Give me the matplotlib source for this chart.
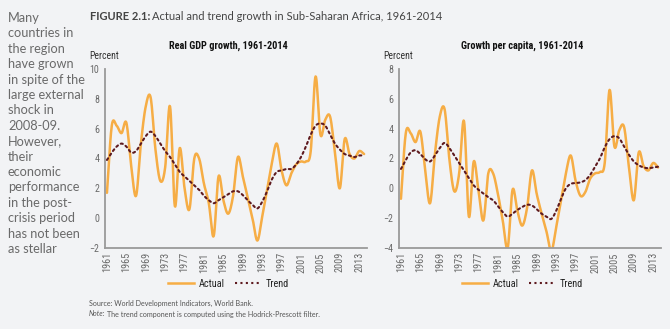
import numpy as np
import matplotlib
matplotlib.use("Agg")
import matplotlib.pyplot as plt
from matplotlib.lines import Line2D
from matplotlib import font_manager as fm

# --- data (annual values, percent) ---
years = list(range(1961, 2015))

gdp_actual = [1.7, 6.2, 6.2, 5.7, 6.4, 3.5, 1.5, 5.0, 7.5, 8.1,
              4.6, 2.5, 3.4, 7.5, 0.8, 4.7, 2.0, 0.6, 4.0, 4.0,
              2.3, 1.0, -1.2, 2.8, 1.2, 0.3, 1.5, 4.1, 2.8, 1.4,
              0.0, -1.5, 0.1, 1.9, 3.7, 5.0, 3.2, 2.2, 3.0, 3.6,
              3.8, 3.8, 4.5, 9.5, 5.6, 6.6, 6.8, 4.4, 2.0, 5.3,
              4.3, 4.0, 4.5, 4.3]
gdp_trend = [3.9, 4.4, 4.8, 5.0, 4.8, 4.4, 4.5, 5.0, 5.5, 5.8,
             5.5, 5.0, 4.5, 4.1, 3.6, 3.1, 2.8, 2.5, 2.2, 1.9,
             1.5, 1.2, 1.0, 1.2, 1.4, 1.6, 1.8, 1.8, 1.55, 1.2,
             0.9, 0.65, 1.1, 1.8, 2.6, 3.1, 3.2, 3.3, 3.3, 3.6,
             4.1, 4.8, 5.6, 6.2, 6.35, 6.2, 5.6, 5.0, 4.6, 4.3,
             4.2, 4.1, 4.2, 4.2]

pc_actual = [-0.7, 3.7, 3.7, 3.1, 3.8, 1.2, -1.0, 2.3, 4.8, 5.3,
             1.9, -0.2, 1.0, 4.5, -1.9, 1.8, -0.2, -2.15, 1.0, 1.0,
             -0.4, -2.2, -4.0, -0.1, -1.5, -2.5, -1.3, 1.2, -0.4, -1.7,
             -2.9, -4.2, -2.6, -0.8, 1.0, 2.2, 0.5, -0.5, -0.25, 0.65,
             1.0, 1.1, 1.7, 6.6, 2.8, 3.9, 4.1, 1.4, -0.8, 2.4,
             1.5, 1.2, 1.7, 1.4]
pc_trend = [1.3, 1.9, 2.4, 2.55, 2.3, 1.95, 1.8, 2.2, 2.7, 3.05,
            2.7, 2.2, 1.7, 1.2, 0.7, 0.2, -0.1, -0.35, -0.6, -0.8,
            -1.2, -1.6, -1.9, -1.7, -1.45, -1.25, -1.1, -1.15, -1.4, -1.7,
            -1.9, -2.05, -1.5, -0.7, 0.0, 0.3, 0.35, 0.4, 0.55, 0.9,
            1.45, 2.0, 2.75, 3.3, 3.5, 3.35, 2.8, 2.25, 1.8, 1.55,
            1.4, 1.35, 1.4, 1.45]

tick_years = list(range(1961, 2014, 4))

panel_titles = ["Real GDP growth, 1961-2014", "Growth per capita, 1961-2014"]
panel_ylims = [(-2, 10), (-4, 8)]

blurb = ("Many\ncountries in\nthe region\nhave grown\nin spite of the\n"
         "large external\nshock in\n2008-09.\nHowever,\ntheir\neconomic\n"
         "performance\nin the post-\ncrisis period\nhas not been\nas stellar")

ORANGE = "#f6ad45"
MAROON = "#5e1a1f"
GREY = "#6a6a6a"

# the chart labels use a condensed face; take whatever narrow font exists
narrow_kw = {"family": "DejaVu Sans", "stretch": "normal"}
_names = {f.name for f in fm.fontManager.ttflist}
for cand in ["Liberation Sans Narrow", "Roboto Condensed", "Open Sans Condensed",
             "Noto Sans Condensed", "DejaVu Sans Condensed"]:
    if cand in _names:
        narrow_kw = {"family": cand, "stretch": "normal"}
        break
else:
    if any(f.name == "DejaVu Sans" and f.stretch == "condensed"
           for f in fm.fontManager.ttflist):
        narrow_kw = {"family": "DejaVu Sans", "stretch": "condensed"}
is_narrow = narrow_kw != {"family": "DejaVu Sans", "stretch": "normal"}
shrink = 1.0 if is_narrow else 0.82


def smooth(x, y, n=12):
    """Catmull-Rom curve through the points, like a 'smoothed line' chart."""
    x = np.asarray(x, float)
    y = np.asarray(y, float)
    px = np.concatenate([[2 * x[0] - x[1]], x, [2 * x[-1] - x[-2]]])
    py = np.concatenate([[2 * y[0] - y[1]], y, [2 * y[-1] - y[-2]]])
    t = np.linspace(0, 1, n, endpoint=False)
    xs, ys = [], []
    for i in range(1, len(px) - 2):
        for arr, out in ((px, xs), (py, ys)):
            p0, p1, p2, p3 = arr[i - 1], arr[i], arr[i + 1], arr[i + 2]
            out.append(0.5 * (2 * p1 + (-p0 + p2) * t
                              + (2 * p0 - 5 * p1 + 4 * p2 - p3) * t ** 2
                              + (-p0 + 3 * p1 - 3 * p2 + p3) * t ** 3))
    xs.append([x[-1]])
    ys.append([y[-1]])
    return np.concatenate(xs), np.concatenate(ys)


fig = plt.figure(figsize=(6.7, 3.29), dpi=100, facecolor="#f2f3f5")
renderer = fig.canvas.get_renderer()


def text_after(prev, s, **kw):
    bb = prev.get_window_extent(renderer)
    x, y = prev.get_position()
    return fig.text(bb.x1 / fig.bbox.width + 0.003, y, s, **kw)


fig.text(8 / 670, 1 - 12 / 329, blurb, ha="left", va="top", fontsize=9.2,
         color=GREY, family="Lato", linespacing=1.34)

t1 = fig.text(90 / 670, 1 - 17 / 329, "FIGURE 2.1:", ha="left", va="center",
              fontsize=8.0, weight="bold", color="#444444", family="Lato")
text_after(t1, "Actual and trend growth in Sub-Saharan Africa, 1961-2014",
           ha="left", va="center", fontsize=8.0, color="#444444", family="Lato")

panels = [(gdp_actual, gdp_trend), (pc_actual, pc_trend)]
lefts = [105 / 670, 399 / 670]
for k, (actual, trend) in enumerate(panels):
    ax = fig.add_axes([lefts[k], 81 / 329, 262 / 670, 179 / 329])
    ax.set_facecolor("none")
    sx, sy = smooth(years, actual)
    ax.plot(sx, sy, color=ORANGE, lw=1.8, solid_capstyle="round")
    tx, ty = smooth(years, trend)
    ax.plot(tx, ty, color=MAROON, lw=1.5, linestyle=(0, (1, 1.6)),
            dash_capstyle="round")
    ax.set_xlim(1960.6, 2014.6)
    ax.set_ylim(*panel_ylims[k])
    lo, hi = panel_ylims[k]
    ax.set_yticks(range(lo, hi + 1, 2))
    ax.set_xticks(tick_years)
    ax.set_xticklabels([str(y) for y in tick_years], rotation=90)
    ax.tick_params(axis="x", length=0, labelsize=7.4 * shrink, labelcolor=GREY, pad=3)
    ax.tick_params(axis="y", length=0, labelsize=7.2 * shrink, labelcolor=GREY, pad=4)
    for lab in ax.get_xticklabels() + ax.get_yticklabels():
        lab.set_family(narrow_kw["family"])
        lab.set_stretch(narrow_kw["stretch"])
    for side in ("top", "right"):
        ax.spines[side].set_visible(False)
    for side in ("left", "bottom"):
        ax.spines[side].set_color("#9a9a9a")
        ax.spines[side].set_linewidth(1.3)
    ax.text(0.47, 1.13, panel_titles[k], transform=ax.transAxes, ha="center",
            va="center", fontsize=7.4 * (1.0 if is_narrow else 0.86),
            weight="bold", color="#111111", **narrow_kw)
    ax.text(-0.06, 1.07, "Percent", transform=ax.transAxes, ha="left",
            va="center", fontsize=7.0 * shrink, color="#333333", **narrow_kw)
    handles = [Line2D([], [], color=ORANGE, lw=1.8),
               Line2D([], [], color=MAROON, lw=1.5, linestyle=(0, (1, 1.6)))]
    ax.legend(handles, ["Actual", "Trend"], loc="center",
              bbox_to_anchor=(0.47, -0.2), ncol=2, frameon=False,
              prop={"family": narrow_kw["family"], "stretch": narrow_kw["stretch"],
                    "size": 7.4 * shrink},
              labelcolor="#222222", handlelength=2.6, columnspacing=1.0,
              handletextpad=0.4)

fig.text(89 / 670, 1 - 303 / 329, "Source: World Development Indicators, World Bank.",
         ha="left", va="center", fontsize=5.1, color="#555555", family="Lato")
n1 = fig.text(89 / 670, 1 - 314 / 329, "Note:", ha="left", va="center",
              fontsize=5.1, style="italic", color="#555555", family="Lato")
text_after(n1, "The trend component is computed using the Hodrick-Prescott filter.",
           ha="left", va="center", fontsize=5.1, color="#555555", family="Lato")

fig.savefig("out.png", dpi=100, facecolor=fig.get_facecolor())
